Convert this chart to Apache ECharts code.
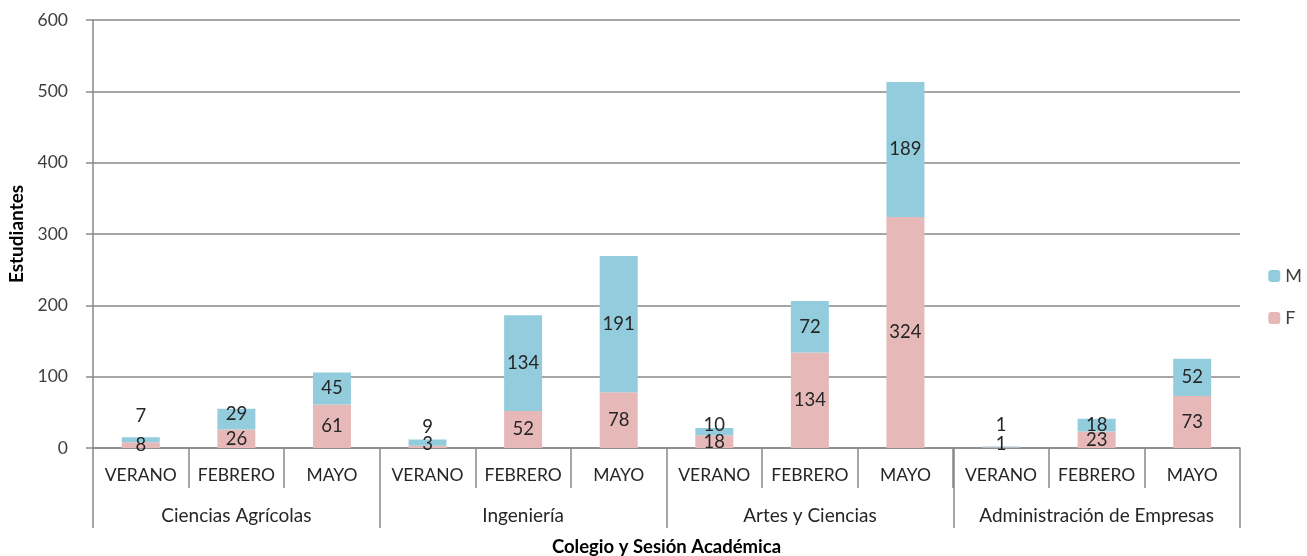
<!DOCTYPE html>
<html>
<head>
<meta charset="utf-8">
<script src="https://cdn.jsdelivr.net/npm/echarts@6/dist/echarts.min.js"></script>
<style>
  html, body { margin: 0; padding: 0; background: #fff; }
  #chart { width: 1307px; height: 556px; }
</style>
</head>
<body>
<div id="chart"></div>
<script>
  // sesiones y colegios
  var sesiones = ['VERANO', 'FEBRERO', 'MAYO', 'VERANO', 'FEBRERO', 'MAYO', 'VERANO', 'FEBRERO', 'MAYO', 'VERANO', 'FEBRERO', 'MAYO']
  var colegios = ['Ciencias Agrícolas', 'Ingeniería', 'Artes y Ciencias', 'Administración de Empresas']
  var valoresF = [8, 26, 61, 3, 52, 78, 18, 134, 324, 1, 23, 73]
  var valoresM = [7, 29, 45, 9, 134, 191, 10, 72, 189, 1, 18, 52]
  var yTicks = [0, 100, 200, 300, 400, 500, 600]

  // desplazamiento de etiquetas pequeñas (como en Excel)
  var nudgeF = [0, 0, 0, -3, 0, 0, 0, 0, 0, -4, 0, 0]
  var nudgeM = [-24, -5, 0, -16, 0, 0, -7, 0, 0, -22, 0, 0]

  var fuente = 'Lato, "Open Sans", sans-serif'
  var gris = '#898989'

  function conEtiquetas(valores, nudge) {
    return valores.map(function (v, i) {
      return { value: v, label: { offset: [0, nudge[i]] } }
    })
  }

  var myChart = echarts.init(document.getElementById('chart'))
  myChart.setOption({
    animation: false,
    textStyle: { fontFamily: fuente },
    legend: {
      orient: 'vertical',
      right: 0,
      top: 262,
      itemWidth: 12,
      itemHeight: 12,
      itemGap: 24,
      data: ['M', 'F'],
      textStyle: { fontSize: 18, color: '#404040', fontFamily: fuente }
    },
    grid: { left: 93, right: 67, top: 20, bottom: 108, outerBoundsMode: 'none' },
    xAxis: [
      {
        type: 'category',
        data: sesiones,
        axisLine: { lineStyle: { color: gris, width: 1.5 } },
        axisTick: { show: true, length: 40, lineStyle: { color: gris, width: 1.5 } },
        axisLabel: { interval: 0, margin: 18, fontSize: 17.5, color: '#262626', fontFamily: fuente }
      },
      {
        type: 'category',
        data: colegios,
        position: 'bottom',
        axisLine: { show: false },
        axisTick: { show: true, length: 80, lineStyle: { color: gris, width: 1.5 } },
        axisLabel: { interval: 0, margin: 58, fontSize: 19, color: '#262626', fontFamily: fuente },
        name: 'Colegio y Sesión Académica',
        nameLocation: 'middle',
        nameGap: 90,
        nameTextStyle: { fontSize: 18.5, fontWeight: 'bold', color: '#000', fontFamily: fuente }
      }
    ],
    yAxis: {
      type: 'value',
      min: yTicks[0],
      max: yTicks[yTicks.length - 1],
      interval: 100,
      name: 'Estudiantes',
      nameLocation: 'middle',
      nameGap: 65,
      nameTextStyle: { fontSize: 19, fontWeight: 'bold', color: '#000', fontFamily: fuente },
      axisLine: { show: true, lineStyle: { color: gris, width: 1.5 } },
      axisTick: { show: true, length: 7, lineStyle: { color: gris, width: 1.5 } },
      axisLabel: { margin: 25, fontSize: 17.5, color: '#404040', fontFamily: fuente },
      splitLine: { lineStyle: { color: gris, width: 1.5 } }
    },
    series: [
      {
        name: 'F',
        type: 'bar',
        stack: 'total',
        barWidth: 38,
        itemStyle: { color: '#E6B9B8' },
        label: { show: true, position: 'inside', fontSize: 18.5, color: '#262626', fontFamily: fuente },
        data: conEtiquetas(valoresF, nudgeF)
      },
      {
        name: 'M',
        type: 'bar',
        stack: 'total',
        barWidth: 38,
        itemStyle: { color: '#93CDDD' },
        label: { show: true, position: 'inside', fontSize: 18.5, color: '#262626', fontFamily: fuente },
        data: conEtiquetas(valoresM, nudgeM)
      }
    ]
  })
</script>
</body>
</html>
